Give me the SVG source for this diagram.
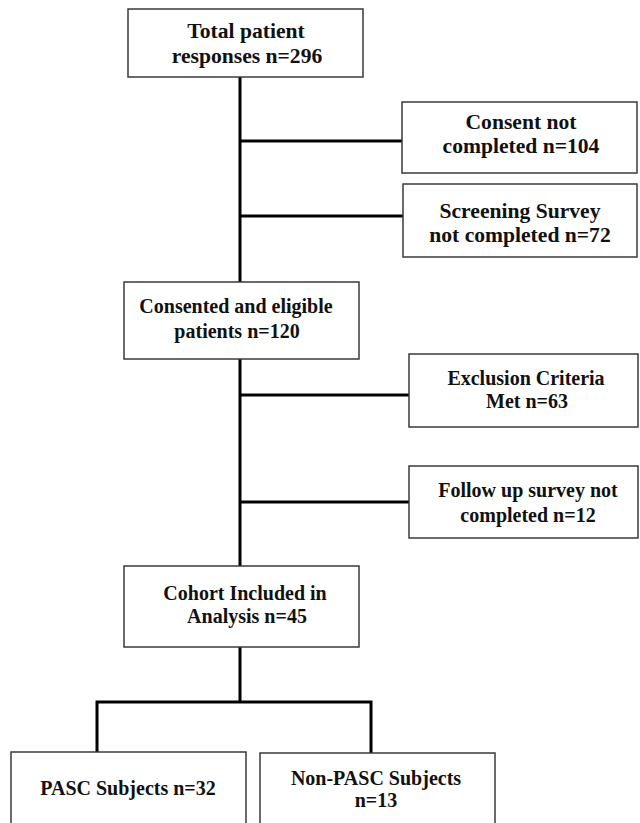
<svg xmlns="http://www.w3.org/2000/svg" width="640" height="823" viewBox="0 0 640 823">
<style>
.box{fill:#fff;stroke:#3a3a3a;stroke-width:1.5}
.t{font-family:"Liberation Serif","Times New Roman",serif;font-weight:bold;font-size:20px;fill:#111;text-anchor:middle}
.big{font-size:21.6px}
.c{stroke:#000;stroke-width:3;fill:none}
</style>
<rect width="640" height="823" fill="#fff"/>
<g id="connectors">
<line class="c" x1="240" y1="77" x2="240" y2="282"/>
<line class="c" x1="240" y1="141" x2="402" y2="141"/>
<line class="c" x1="240" y1="216" x2="403" y2="216"/>
<line class="c" x1="240" y1="359" x2="240" y2="566"/>
<line class="c" x1="240" y1="395" x2="409" y2="395"/>
<line class="c" x1="240" y1="502" x2="409" y2="502"/>
<line class="c" x1="240" y1="647" x2="240" y2="702"/>
<polyline class="c" points="97,752 97,702 371,702 371,753"/>
</g>
<g id="n1">
<rect class="box" x="128" y="9" width="235" height="68"/>
<text class="t big" x="246" y="38">Total patient</text>
<text class="t big" x="247" y="63">responses n=296</text>
</g>
<g id="n2">
<rect class="box" x="402" y="102" width="235" height="71"/>
<text class="t big" x="521" y="129">Consent not</text>
<text class="t big" x="521" y="153">completed n=104</text>
</g>
<g id="n3">
<rect class="box" x="403" y="184" width="234" height="73"/>
<text class="t big" x="520" y="218">Screening Survey</text>
<text class="t big" x="520" y="242">not completed n=72</text>
</g>
<g id="n4">
<rect class="box" x="124" y="282" width="235" height="77"/>
<text class="t" x="236" y="313">Consented and eligible</text>
<text class="t" x="237" y="338">patients n=120</text>
</g>
<g id="n5">
<rect class="box" x="409" y="354" width="229" height="73"/>
<text class="t" x="526" y="385">Exclusion Criteria</text>
<text class="t" x="527" y="408">Met n=63</text>
</g>
<g id="n6">
<rect class="box" x="409" y="466" width="229" height="72"/>
<text class="t" x="528" y="497">Follow up survey not</text>
<text class="t" x="528" y="522">completed n=12</text>
</g>
<g id="n7">
<rect class="box" x="124" y="566" width="235" height="81"/>
<text class="t" x="245" y="600">Cohort Included in</text>
<text class="t" x="247" y="623">Analysis n=45</text>
</g>
<g id="n8">
<rect class="box" x="11" y="752" width="235" height="90"/>
<text class="t" x="128" y="795">PASC Subjects n=32</text>
</g>
<g id="n9">
<rect class="box" x="260" y="753" width="235" height="90"/>
<text class="t" x="376" y="785">Non-PASC Subjects</text>
<text class="t" x="376" y="807">n=13</text>
</g>
</svg>
